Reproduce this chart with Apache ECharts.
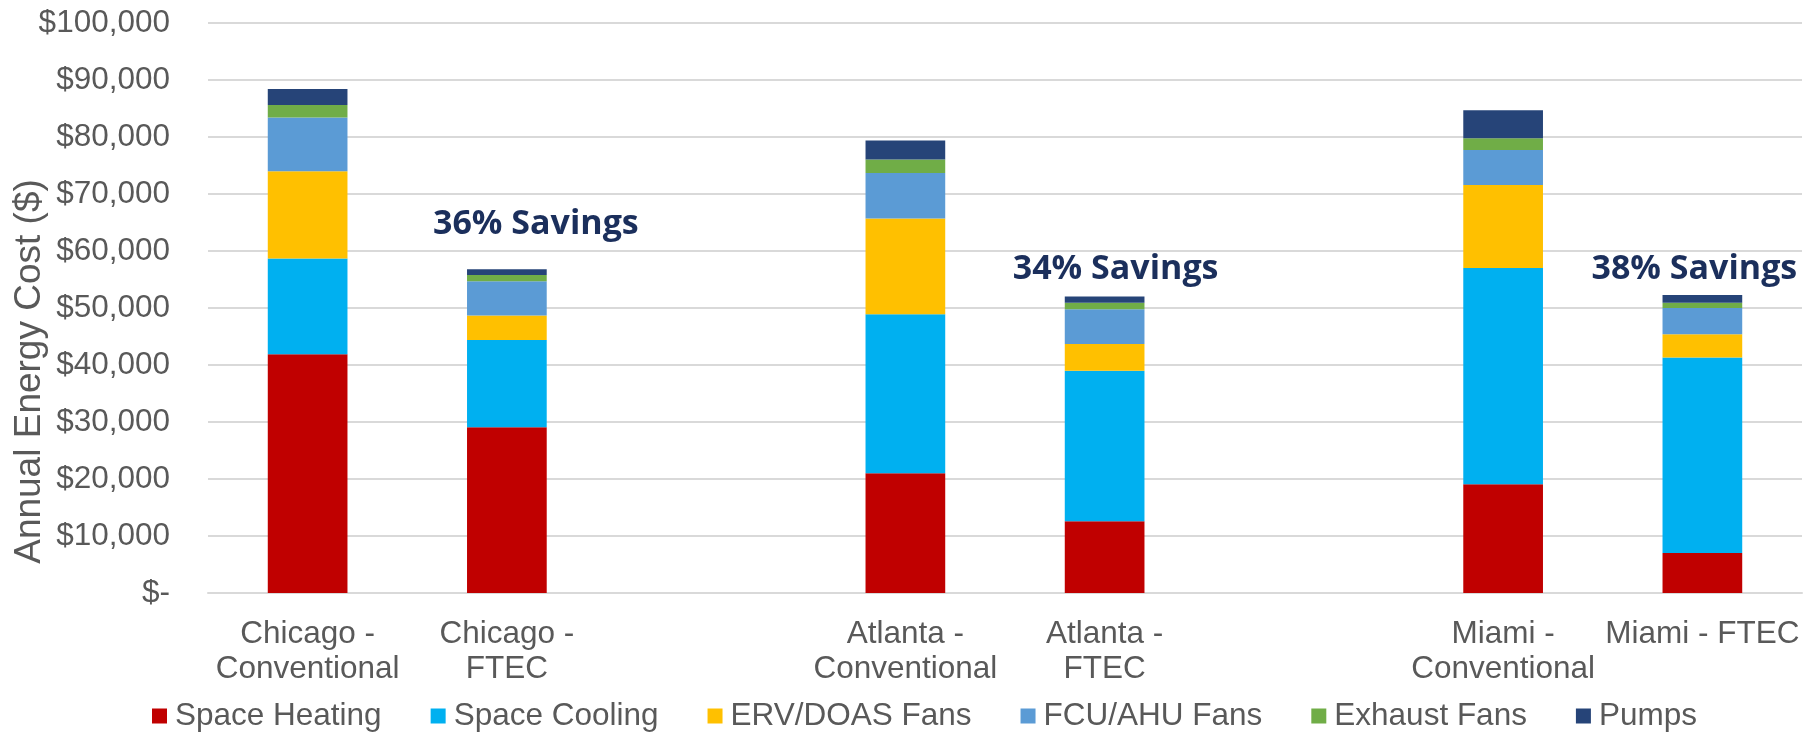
<!DOCTYPE html>
<html>
<head>
<meta charset="utf-8">
<script src="https://cdn.jsdelivr.net/npm/echarts@6/dist/echarts.min.js"></script>
<style>
html,body{margin:0;padding:0;background:#fff;}
#chart{width:1805px;height:733px;}
</style>
</head>
<body>
<div id="chart"></div>
<script>
var categories = ['Chicago -\nConventional', 'Chicago -\nFTEC', '', 'Atlanta -\nConventional', 'Atlanta -\nFTEC', ' ', 'Miami -\nConventional', 'Miami - FTEC'];
var seriesNames = ['Space Heating', 'Space Cooling', 'ERV/DOAS Fans', 'FCU/AHU Fans', 'Exhaust Fans', 'Pumps'];
var spaceHeating = [41900, 29100, null, 21000, 12600, null, 19100, 7000];
var spaceCooling = [16800, 15300, null, 27900, 26400, null, 37900, 34300];
var ervDoasFans  = [15300, 4300, null, 16800, 4700, null, 14600, 4100];
var fcuAhuFans   = [9400, 6000, null, 8000, 6100, null, 6100, 4600];
var exhaustFans  = [2200, 1100, null, 2350, 1100, null, 2100, 900];
var pumps        = [2800, 1000, null, 3350, 1100, null, 4900, 1400];
var yTicks = [0, 10000, 20000, 30000, 40000, 50000, 60000, 70000, 80000, 90000, 100000];
var yAxisTitle = 'Annual Energy Cost ($)';
var savingsText = ['36% Savings', '34% Savings', '38% Savings'];
var savingsCat  = [1, 4, 7];
var savingsY    = [64700, 56700, 56700];
var savingsDx   = [29, 11, -8];

var colors = ['#C00000', '#00B0F0', '#FFC000', '#5B9BD5', '#70AD47', '#264478'];
var allData = [spaceHeating, spaceCooling, ervDoasFans, fcuAhuFans, exhaustFans, pumps];
var txt = '#595959';
var font = '"Liberation Sans", Arial, sans-serif';

var series = seriesNames.map(function (n, i) {
  var s = {
    name: n, type: 'bar', stack: 'total', barWidth: '40%',
    itemStyle: {color: colors[i]},
    data: allData[i]
  };
  if (i === seriesNames.length - 1) {
    s.markPoint = {
      symbol: 'circle', symbolSize: 0, silent: true,
      data: savingsText.map(function (t, k) {
        return {
          coord: [savingsCat[k], savingsY[k]],
          label: {show: true, position: 'inside', formatter: t, offset: [savingsDx[k], 0],
                  color: '#1B2F5C', fontFamily: '"Open Sans", sans-serif', fontWeight: 'bold', fontSize: 34}
        };
      })
    };
  }
  return s;
});

var chart = echarts.init(document.getElementById('chart'));
chart.setOption({
  animation: false,
  backgroundColor: '#fff',
  grid: {left: 208, right: 3, top: 23, bottom: 140, containLabel: false, outerBoundsMode: 'none'},
  legend: {
    data: seriesNames, top: 695, left: 147,
    icon: 'rect', itemWidth: 15, itemHeight: 15, itemGap: 49,
    textStyle: {color: txt, fontSize: 31.5, fontFamily: font, padding: [0, 0, 0, 3]}
  },
  graphic: [{
    type: 'text', x: 30, y: 371.5, rotation: Math.PI / 2,
    style: {text: yAxisTitle, fill: txt, font: '37px "Liberation Sans", Arial, sans-serif',
            textAlign: 'center', textVerticalAlign: 'middle'}
  }],
  xAxis: {
    type: 'category', data: categories,
    axisLine: {show: true, lineStyle: {color: '#D9D9D9', width: 2}},
    axisTick: {show: false},
    axisLabel: {color: txt, fontSize: 31.5, fontFamily: font, lineHeight: 35, margin: 24, interval: 0}
  },
  yAxis: {
    type: 'value', min: 0, max: 100000, interval: 10000,
    axisLine: {show: false}, axisTick: {show: false},
    splitLine: {lineStyle: {color: '#D9D9D9', width: 2}},
    axisLabel: {color: txt, fontSize: 31.5, fontFamily: font, margin: 38,
      formatter: function (v) { return v === 0 ? '$-' : '$' + v.toLocaleString('en-US'); }}
  },
  series: series
});
</script>
</body>
</html>
